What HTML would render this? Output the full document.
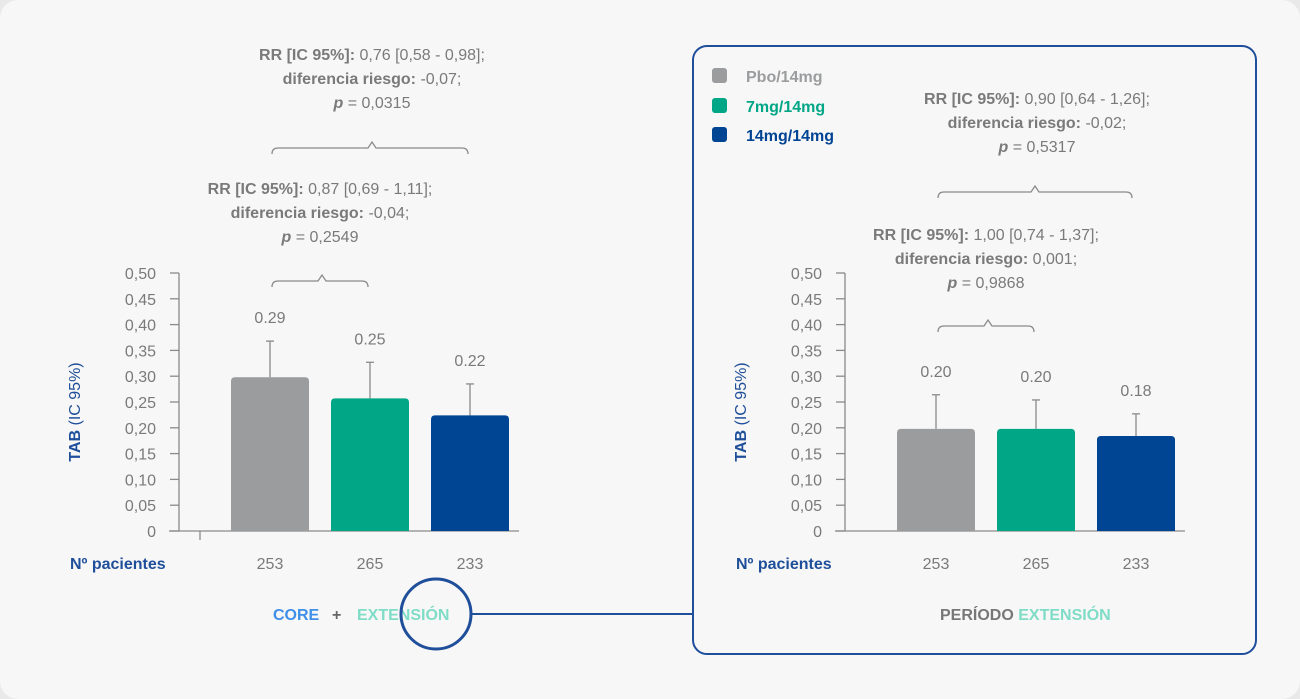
<!DOCTYPE html>
<html><head><meta charset="utf-8"><style>
html,body{margin:0;padding:0;background:#e9e9e9;}
svg{display:block;font-family:"Liberation Sans",sans-serif;}
</style></head><body>
<svg width="1300" height="699" viewBox="0 0 1300 699">
<rect x="0" y="0" width="1300" height="699" rx="18" fill="#f7f7f7"/>
<rect x="693" y="46" width="563" height="608" rx="14" fill="none" stroke="#1f4e9a" stroke-width="2"/>
<g id="chartL"></g>
<g id="chartR"></g>
<g font-size="16" font-weight="bold">
<rect x="712" y="68" width="15" height="15" rx="3" fill="#9b9c9e"/>
<text x="746" y="82" fill="#9b9c9e">Pbo/14mg</text>
<rect x="712" y="98" width="15" height="15" rx="3" fill="#00a686"/>
<text x="746" y="112" fill="#00a686">7mg/14mg</text>
<rect x="712" y="127" width="15" height="15" rx="3" fill="#004494"/>
<text x="746" y="141" fill="#004494">14mg/14mg</text>
</g>
<g font-size="16" fill="#7a7a7a" text-anchor="middle">
<text x="372" y="60"><tspan font-weight="bold">RR [IC 95%]:</tspan> 0,76 [0,58 - 0,98];</text>
<text x="372" y="84"><tspan font-weight="bold">diferencia riesgo:</tspan> -0,07;</text>
<text x="372" y="108"><tspan font-weight="bold" font-style="italic">p</tspan> = 0,0315</text>
<text x="320" y="194"><tspan font-weight="bold">RR [IC 95%]:</tspan> 0,87 [0,69 - 1,11];</text>
<text x="320" y="218"><tspan font-weight="bold">diferencia riesgo:</tspan> -0,04;</text>
<text x="320" y="242"><tspan font-weight="bold" font-style="italic">p</tspan> = 0,2549</text>
<text x="1037" y="104"><tspan font-weight="bold">RR [IC 95%]:</tspan> 0,90 [0,64 - 1,26];</text>
<text x="1037" y="128"><tspan font-weight="bold">diferencia riesgo:</tspan> -0,02;</text>
<text x="1037" y="152"><tspan font-weight="bold" font-style="italic">p</tspan> = 0,5317</text>
<text x="986" y="240"><tspan font-weight="bold">RR [IC 95%]:</tspan> 1,00 [0,74 - 1,37];</text>
<text x="986" y="264"><tspan font-weight="bold">diferencia riesgo:</tspan> 0,001;</text>
<text x="986" y="288"><tspan font-weight="bold" font-style="italic">p</tspan> = 0,9868</text>
</g>
<g fill="none" stroke="#8a8a8a" stroke-width="1.3">
<path d="M272 154 q0 -6 6 -6 h90 l4 -6 l4 6 h86 q6 0 6 6"/>
<path d="M272 287 q0 -6 6 -6 h40 l4 -6 l4 6 h36 q6 0 6 6"/>
<path d="M938 198 q0 -6 6 -6 h87 l4 -6 l4 6 h87 q6 0 6 6"/>
<path d="M938 332 q0 -6 6 -6 h40 l4 -6 l4 6 h36 q6 0 6 6"/>
</g>
<g font-size="16" font-weight="bold">
<text x="273" y="620" fill="#3f8fe8">CORE</text>
<text x="332" y="620" fill="#666">+</text>
<text x="357" y="620" fill="#7fdcc6">EXTENSIÓN</text>
<text x="940" y="620" fill="#777">PERÍODO <tspan fill="#7fdcc6">EXTENSIÓN</tspan></text>
</g>
<circle cx="436" cy="614" r="35" fill="none" stroke="#1f4e9a" stroke-width="3"/>
<line x1="471" y1="614" x2="693" y2="614" stroke="#1f4e9a" stroke-width="2"/>
</svg>
<script>
const categories = ["Pbo/14mg","7mg/14mg","14mg/14mg"];
const colors = ["#9b9c9e","#00a686","#004494"];
const leftValues = [0.298,0.257,0.224];
const leftUpper = [0.368,0.327,0.285];
const leftLabels = ["0.29","0.25","0.22"];
const leftPatients = ["253","265","233"];
const rightValues = [0.198,0.198,0.184];
const rightUpper = [0.264,0.254,0.227];
const rightLabels = ["0.20","0.20","0.18"];
const rightPatients = ["253","265","233"];
const tickValues = [0,0.05,0.10,0.15,0.20,0.25,0.30,0.35,0.40,0.45,0.50];
const tickLabels = ["0","0,05","0,10","0,15","0,20","0,25","0,30","0,35","0,40","0,45","0,50"];
const NS="http://www.w3.org/2000/svg";
function mk(parent,tag,attrs,txt){const e=document.createElementNS(NS,tag);for(const k in attrs)e.setAttribute(k,attrs[k]);if(txt!==undefined)e.textContent=txt;parent.appendChild(e);return e;}
function draw(gid,axisX,firstCenter,values,upper,labels,patients,extraTick){
  const g=document.getElementById(gid);
  const y0=531,yTop=273;
  const y=v=>y0-(v/0.5)*(y0-yTop);
  const xc=i=>firstCenter+i*100;
  const bw=78;
  let e=mk(g,'line',{x1:axisX,y1:yTop,x2:axisX,y2:y0,stroke:'#8a8a8a','stroke-width':1.3});
  
  e=mk(g,'line',{x1:axisX-10,y1:y0,x2:xc(2)+bw/2+10,y2:y0,stroke:'#8a8a8a','stroke-width':1.3});
  
  if(extraTick){e=mk(g,'line',{x1:axisX+21,y1:y0,x2:axisX+21,y2:y0+9,stroke:'#8a8a8a','stroke-width':1.3});
  }
  tickValues.forEach((v,i)=>{
    let t=mk(g,'line',{x1:axisX-9,y1:y(v),x2:axisX,y2:y(v),stroke:'#8a8a8a','stroke-width':1.3});
    
    t=mk(g,'text',{x:axisX-23,y:y(v)+6,'text-anchor':'end','font-size':16,fill:'#7a7a7a'},tickLabels[i]);
    
  });
  e=mk(g,'text',{transform:`translate(${axisX-99},${(y0+yTop)/2+10}) rotate(-90)`,'text-anchor':'middle','font-size':16,fill:'#1f4e9a'});
  
  mk(e,'tspan',{'font-weight':'bold'},'TAB ');mk(e,'tspan',{},'(IC 95%)');
  values.forEach((v,i)=>{
    let el=mk(g,'line',{x1:xc(i),y1:y(upper[i]),x2:xc(i),y2:y(v),stroke:'#8a8a8a','stroke-width':1.3});
    
    el=mk(g,'line',{x1:xc(i)-4,y1:y(upper[i]),x2:xc(i)+4,y2:y(upper[i]),stroke:'#8a8a8a','stroke-width':1.3});
    
    el=mk(g,'path',{d:`M${xc(i)-bw/2} ${y0} V${y(v)+4} q0 -4 4 -4 H${xc(i)+bw/2-4} q4 0 4 4 V${y0} Z`,fill:colors[i]});
    
    el=mk(g,'text',{x:xc(i),y:y(upper[i])-18,'text-anchor':'middle','font-size':16,fill:'#7a7a7a'},labels[i]);
    
    el=mk(g,'text',{x:xc(i),y:569,'text-anchor':'middle','font-size':16,fill:'#7a7a7a'},patients[i]);
    
  });
  e=mk(g,'text',{x:axisX-109,y:569,'font-size':16,'font-weight':'bold',fill:'#1f4e9a'},'Nº pacientes');
  
}
draw('chartL',179,270,leftValues,leftUpper,leftLabels,leftPatients,true);
draw('chartR',845,936,rightValues,rightUpper,rightLabels,rightPatients,false);
</script>
</body></html>
